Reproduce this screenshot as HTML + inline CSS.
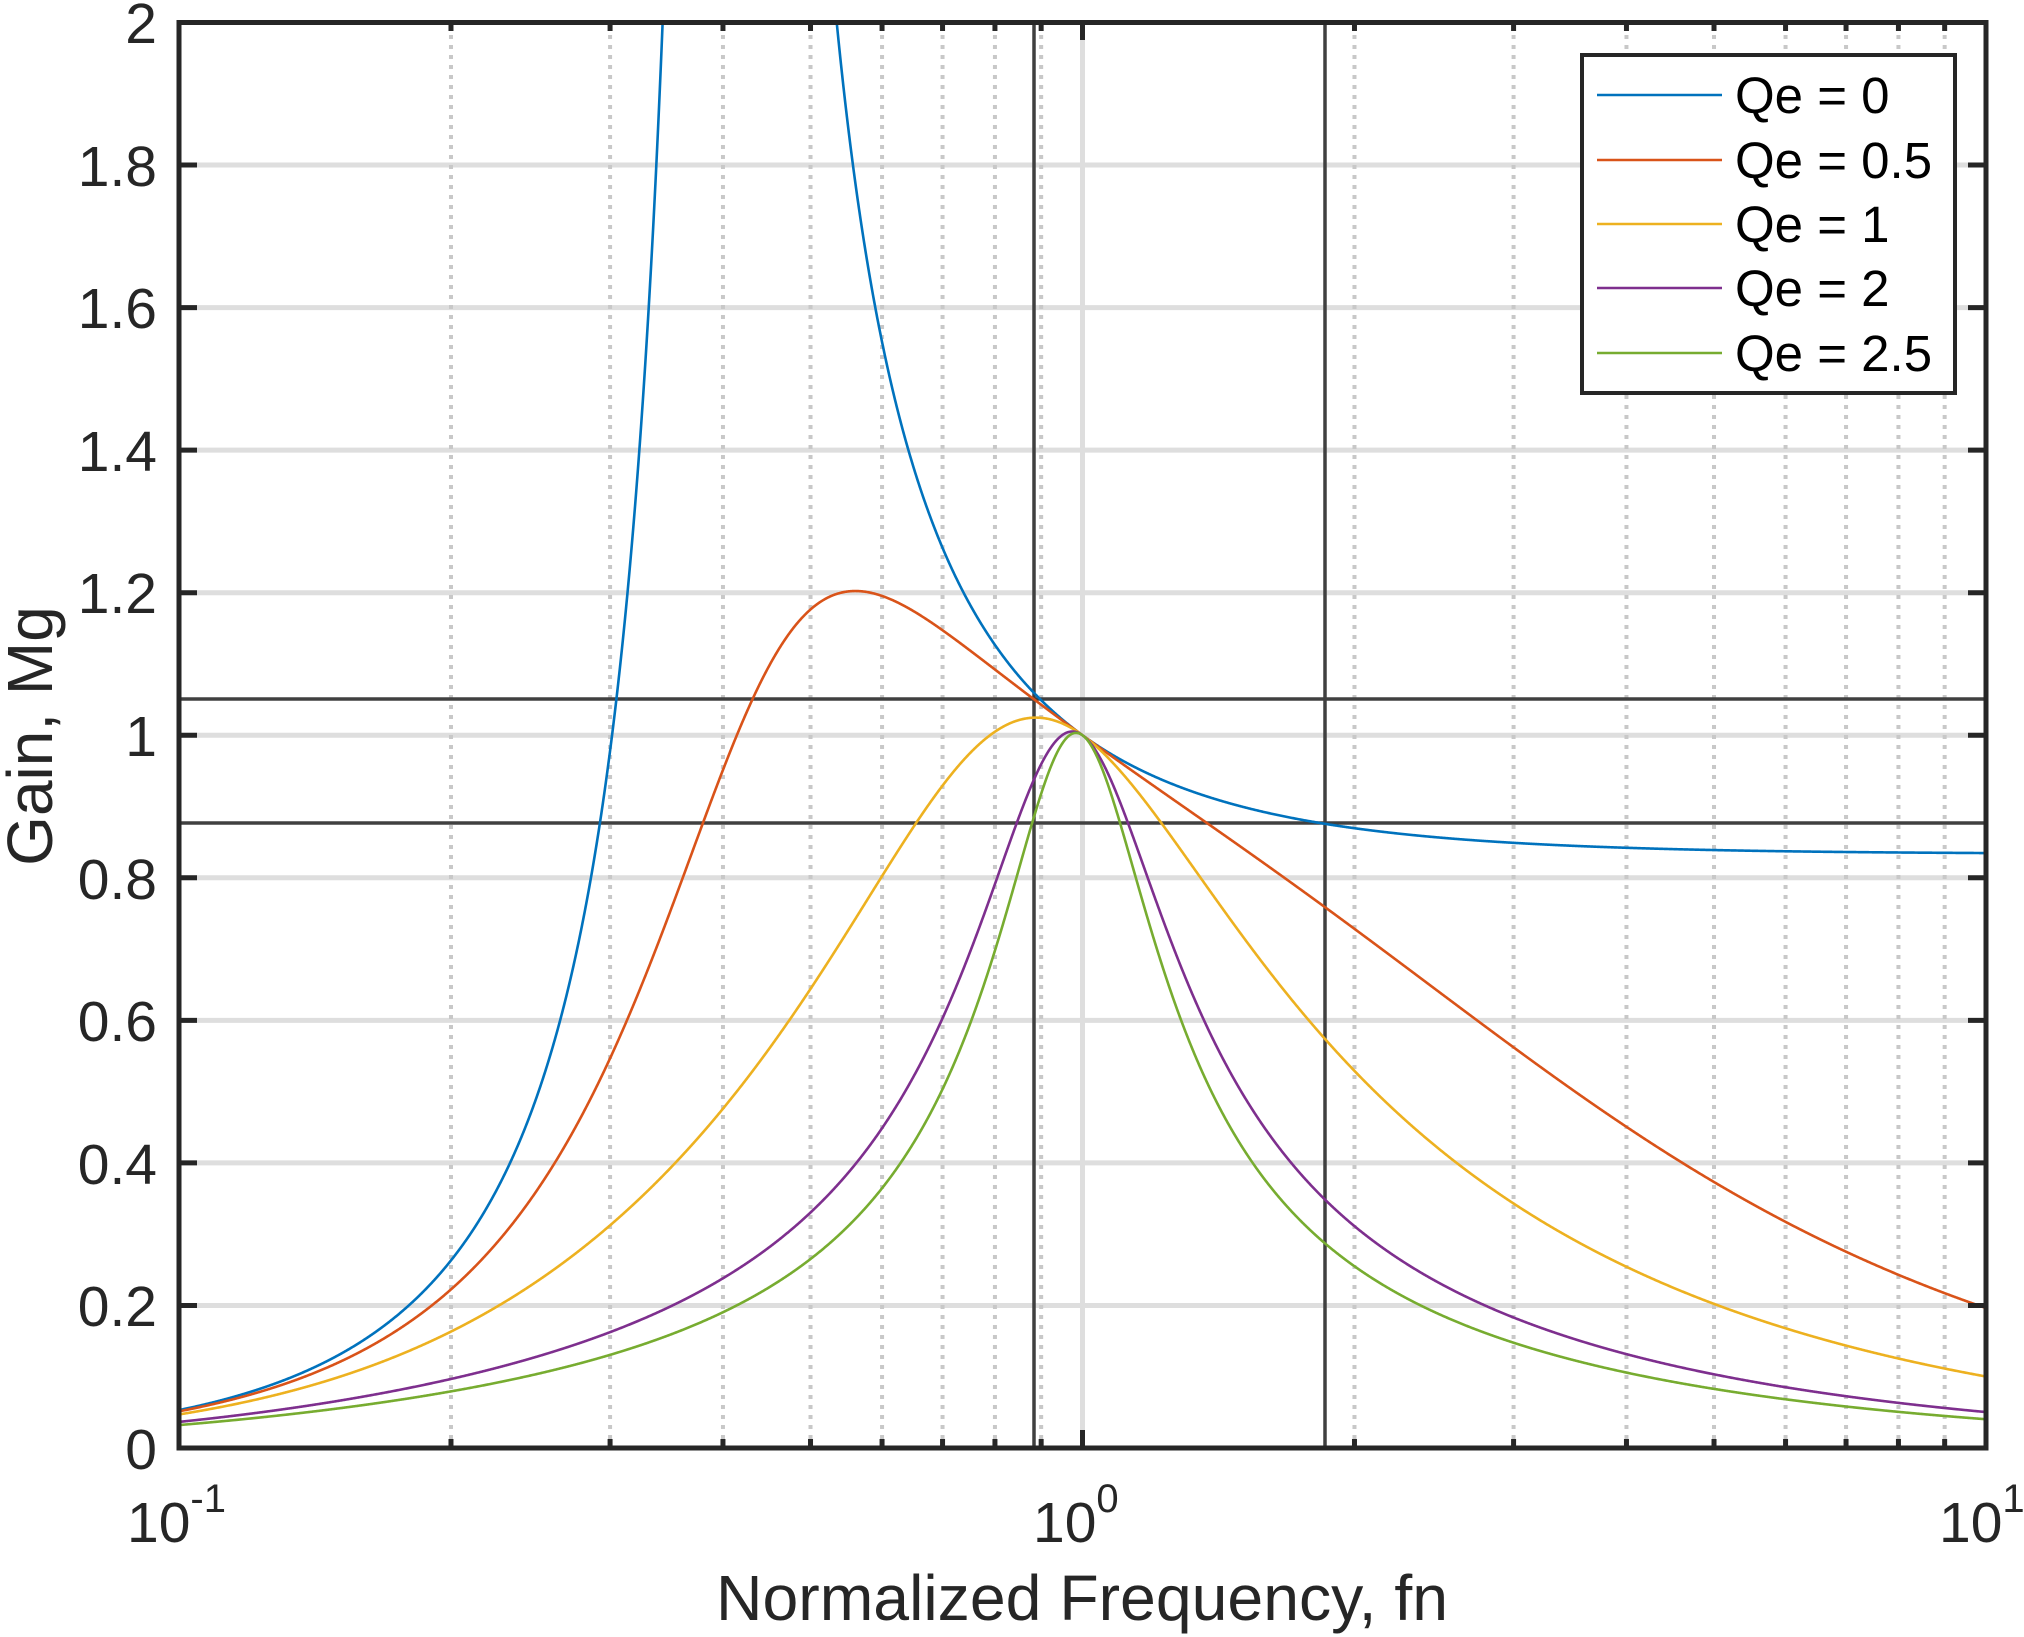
<!DOCTYPE html>
<html><head><meta charset="utf-8"><style>
html,body{margin:0;padding:0;background:#fff;width:2024px;height:1637px;overflow:hidden}
svg{display:block}
text{font-family:"Liberation Sans",Arial,sans-serif;fill:#262626}
</style></head><body>
<svg id="s" width="2024" height="1637" viewBox="0 0 2024 1637" xmlns="http://www.w3.org/2000/svg">
<defs><clipPath id="c"><rect x="179" y="22.5" width="1807" height="1425.5"/></clipPath></defs>
<g id="grid"></g>
<g id="ref" stroke="#404040" stroke-width="3.5" fill="none">
<line x1="1034" y1="22.5" x2="1034" y2="1448"/>
<line x1="1325" y1="22.5" x2="1325" y2="1448"/>
<line x1="179" y1="699" x2="1986" y2="699"/>
<line x1="179" y1="823" x2="1986" y2="823"/>
</g>
<g id="curves" clip-path="url(#c)" fill="none" stroke-width="2.6"></g>
<g id="ticks" stroke="#262626" stroke-width="5"></g>
<rect x="179" y="22.5" width="1807" height="1425.5" fill="none" stroke="#262626" stroke-width="5"/>
<g font-size="57" text-anchor="end">
<text x="157" y="1469">0</text>
<text x="157" y="1326">0.2</text>
<text x="157" y="1184">0.4</text>
<text x="157" y="1041">0.6</text>
<text x="157" y="899">0.8</text>
<text x="157" y="756">1</text>
<text x="157" y="613">1.2</text>
<text x="157" y="471">1.4</text>
<text x="157" y="328">1.6</text>
<text x="157" y="186">1.8</text>
<text x="157" y="43">2</text>
</g>
<g font-size="57">
<text x="127" y="1542">10<tspan font-size="40" dy="-30">-1</tspan></text>
<text x="1033" y="1542">10<tspan font-size="40" dy="-30">0</tspan></text>
<text x="1939" y="1542">10<tspan font-size="40" dy="-30">1</tspan></text>
</g>
<text x="716" y="1620" font-size="64" textLength="732" lengthAdjust="spacingAndGlyphs">Normalized Frequency, fn</text>
<text transform="translate(52,736) rotate(-90)" font-size="64" text-anchor="middle">Gain, Mg</text>
<rect x="1582" y="55" width="373" height="338" fill="#fff" stroke="#262626" stroke-width="4"/>
<g stroke-width="2.6">
<line x1="1597" y1="95" x2="1722" y2="95" stroke="#0072BD"/>
<line x1="1597" y1="160" x2="1722" y2="160" stroke="#D95319"/>
<line x1="1597" y1="224" x2="1722" y2="224" stroke="#EDB120"/>
<line x1="1597" y1="288" x2="1722" y2="288" stroke="#7E2F8E"/>
<line x1="1597" y1="353" x2="1722" y2="353" stroke="#77AC30"/>
</g>
<g font-size="51">
<text x="1735" y="113" style="fill:#000">Qe = 0</text>
<text x="1735" y="178" style="fill:#000">Qe = 0.5</text>
<text x="1735" y="242" style="fill:#000">Qe = 1</text>
<text x="1735" y="306" style="fill:#000">Qe = 2</text>
<text x="1735" y="371" style="fill:#000">Qe = 2.5</text>
</g>
</svg>
<script>
var NS="http://www.w3.org/2000/svg";
function X(f){return 179+(Math.log10(f)+1)*903.5}
function Y(m){return 1448-m*712.75}
function el(p,t,a){var e=document.createElementNS(NS,t);for(var k in a)e.setAttribute(k,a[k]);p.appendChild(e);return e}
var g=document.getElementById("grid"),tk=document.getElementById("ticks");
for(var i=1;i<10;i++){var y=Y(i*0.2);el(g,"line",{x1:179,x2:1986,y1:y,y2:y,stroke:"#dedede","stroke-width":5});}
for(var d=0;d<2;d++)for(var k=2;k<10;k++){var x=X(k*Math.pow(10,d-1));
 el(g,"line",{x1:x,x2:x,y1:25,y2:1446,stroke:"#c8c8c8","stroke-width":4,"stroke-dasharray":"4 6"});
 el(tk,"line",{x1:x,x2:x,y1:22.5,y2:31});el(tk,"line",{x1:x,x2:x,y1:1448,y2:1439});}
el(g,"line",{x1:X(1),x2:X(1),y1:25,y2:1446,stroke:"#dedede","stroke-width":5});
el(tk,"line",{x1:X(1),x2:X(1),y1:22.5,y2:40});el(tk,"line",{x1:X(1),x2:X(1),y1:1448,y2:1430});
for(var i=1;i<10;i++){var y=Y(i*0.2);el(tk,"line",{x1:179,x2:197,y1:y,y2:y});el(tk,"line",{x1:1986,x2:1968,y1:y,y2:y});}
var Ln=5,qs=[0,0.5,1,2,2.5],cols=["#0072BD","#D95319","#EDB120","#7E2F8E","#77AC30"],cv=document.getElementById("curves");
qs.forEach(function(q,j){
 var segs=[],cur=[];
 for(var i=0;i<=3000;i++){var f=Math.pow(10,-1+2*i/3000),f2=f*f;
  var a=(Ln+1)*f2-1,b=(f2-1)*f*q*Ln;var m=Ln*f2/Math.sqrt(a*a+b*b);
  var y=Y(m);if(y<-200)y=-200;
  if(q==0 && Math.abs(a)<0.02){if(cur.length)segs.push(cur);cur=[];continue;}
  cur.push(X(f).toFixed(2)+","+y.toFixed(2));}
 if(cur.length)segs.push(cur);
 segs.forEach(function(s){el(cv,"polyline",{points:s.join(" "),stroke:cols[j]});});
});
</script>
</body></html>
